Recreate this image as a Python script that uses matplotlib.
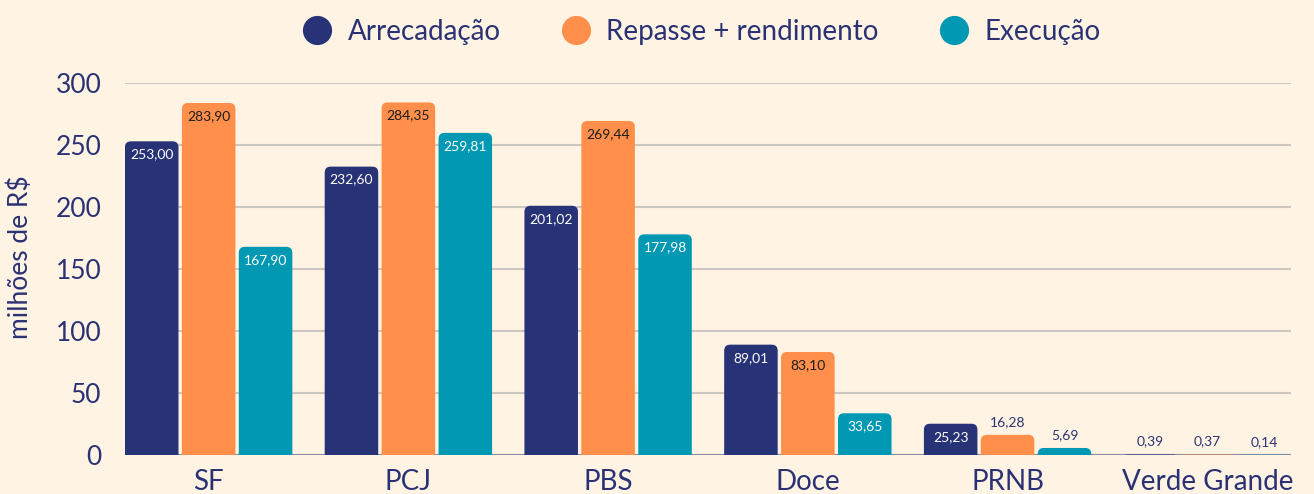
import matplotlib.pyplot as plt
import numpy as np
from matplotlib.patches import FancyBboxPatch
from matplotlib.lines import Line2D

### DATA ###
categories = ["SF", "PCJ", "PBS", "Doce", "PRNB", "Verde Grande"]
arrecadacao = [253.00, 232.60, 201.02, 89.01, 25.23, 0.39]
repasse = [283.90, 284.35, 269.44, 83.10, 16.28, 0.37]
execucao = [167.90, 259.81, 177.98, 33.65, 5.69, 0.14]
series_names = ["Arrecadação", "Repasse + rendimento", "Execução"]

### STYLE ###
bg = "#fff3e3"
navy = "#283276"
orange = "#ff8f4a"
teal = "#0098b3"
text_col = "#2a3275"
grid_col = "#cdc7c4"
colors = [navy, orange, teal]
label_colors = ["white", "#1c1c1c", "white"]

plt.rcParams['font.family'] = ['Lato', 'DejaVu Sans']

fig = plt.figure(figsize=(13.14, 4.94), dpi=100, facecolor=bg)
ax = fig.add_axes([0.0951, 0.0789, 0.8874, 0.753])
ax.set_facecolor(bg)

x = np.arange(len(categories))
width = 0.268
offset = 0.285
ax.set_xlim(-0.419, 5.419)
ax.set_ylim(0, 300)

# rounding radius: ~6 px in both directions
r_x = 0.030
r_y = 4.84
aspect = r_y / r_x

for i, (vals, c, lc) in enumerate(zip([arrecadacao, repasse, execucao], colors, label_colors)):
    pos = x + (i - 1) * offset
    bars = ax.bar(pos, vals, width=width, color=c, zorder=3)
    for rect, v in zip(bars, vals):
        rect.set_visible(False)
        h_tot = v + r_y
        rr = min(r_x, h_tot / aspect / 2)
        p = FancyBboxPatch((rect.get_x(), -r_y), rect.get_width(), h_tot,
                           boxstyle=f"round,pad=0,rounding_size={rr}",
                           mutation_aspect=aspect, fc=c, ec="none", zorder=3)
        ax.add_patch(p)
        p.set_clip_path(ax.patch)
        label = f"{v:.2f}".replace(".", ",")
        if v > 20:
            ax.annotate(label, (rect.get_x() + rect.get_width() / 2, v),
                        xytext=(0, -13), textcoords="offset pixels",
                        ha="center", va="center", fontsize=10, color=lc, zorder=4)
        else:
            ax.annotate(label, (rect.get_x() + rect.get_width() / 2, v),
                        xytext=(0, 13), textcoords="offset pixels",
                        ha="center", va="center", fontsize=10, color=text_col, zorder=4)

ax.set_yticks([0, 50, 100, 150, 200, 250, 300])
ax.set_xticks(x)
ax.set_xticklabels(categories)
ax.tick_params(axis="y", length=0, pad=17, labelsize=19, labelcolor=text_col)
ax.tick_params(axis="x", length=0, pad=10, labelsize=20, labelcolor=text_col)
ax.grid(axis="y", color=grid_col, linewidth=1.5, zorder=0)
ax.axhline(0, color="#8c8ea8", linewidth=1.5, zorder=2)
for s in ax.spines.values():
    s.set_visible(False)
ax.set_ylabel("milhões de R$", fontsize=19, color=text_col)
ax.yaxis.set_label_coords(-0.079, 0.531)

handles = [Line2D([], [], marker="o", linestyle="none", markersize=21,
                  markerfacecolor=c, markeredgecolor="none") for c in colors]
fig.legend(handles, series_names, loc="upper center", bbox_to_anchor=(0.534, 1.012),
           ncol=3, frameon=False, fontsize=20, labelcolor=text_col,
           handletextpad=0.6, columnspacing=2.2, handlelength=1.0)

fig.savefig("out.png", dpi=100, facecolor=bg)
